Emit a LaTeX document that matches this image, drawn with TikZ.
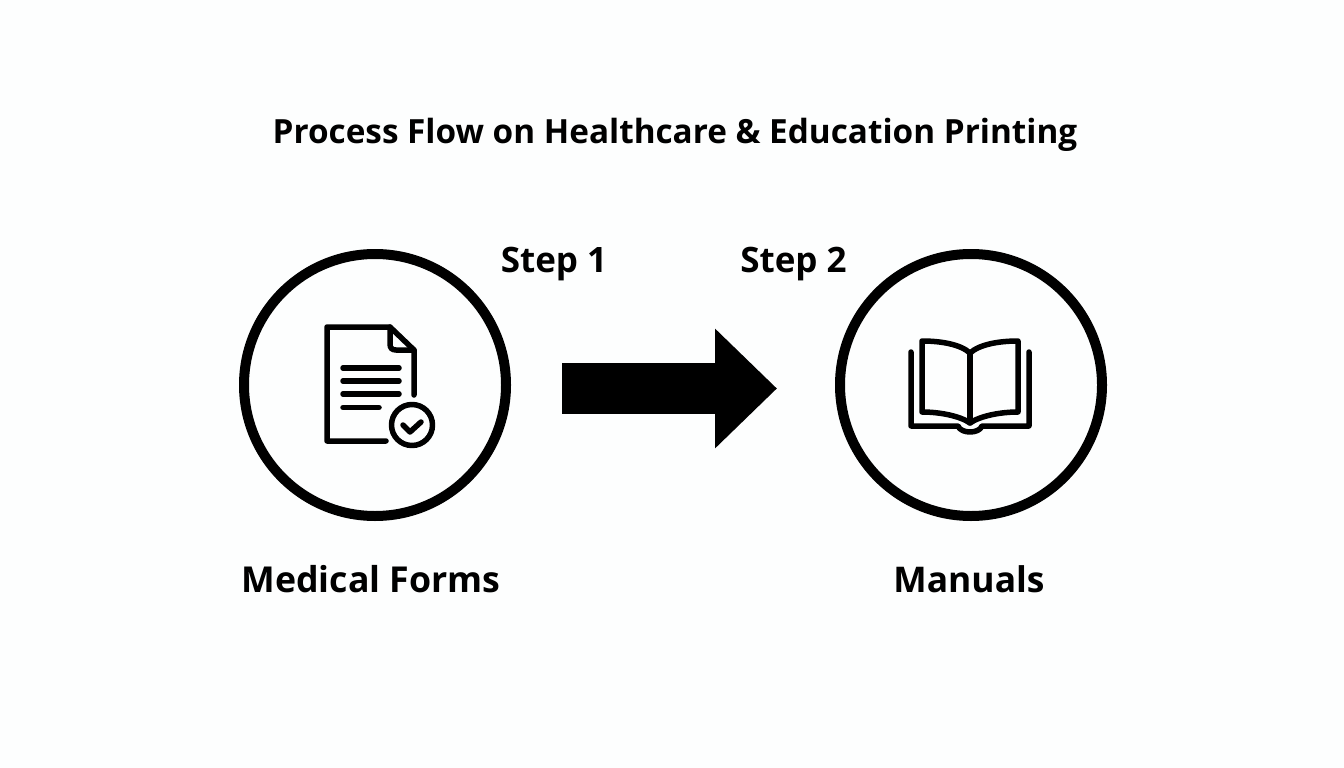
\documentclass[tikz,border=0pt]{standalone}
\usepackage{fontspec}
\setmainfont{Open Sans}
\usetikzlibrary{calc,arrows.meta,positioning}
\definecolor{pagewhite}{HTML}{FDFEFE}

\begin{document}
\begin{tikzpicture}[x=1pt,y=-1pt,thick,
    stage/.style={minimum size=262pt,circle,draw,line width=10pt,inner sep=0pt},
    caption/.style={font=\fontsize{35pt}{40pt}\selectfont\bfseries,inner sep=0pt,anchor=base},
    icon/.style={draw,line width=5.5pt,line cap=round,line join=round}]

  \path[use as bounding box,fill=pagewhite] (0,0) rectangle (1344,768);

  \node[caption,font=\fontsize{33.3pt}{38pt}\selectfont\bfseries] (title) at (675,143) {Process Flow on Healthcare \& Education Printing};

  \node[stage] (forms) at (375,385) {};
  \node[stage] (manuals) at (971,385) {};

  \node[caption,font=\fontsize{35.7pt}{40pt}\selectfont\bfseries] (formslabel) at (371,592) {Medical Forms};
  \node[caption,font=\fontsize{35.4pt}{40pt}\selectfont\bfseries] (manualslabel) at (969,592) {Manuals};
  \node[caption] (step1) at (554,272) {Step 1};
  \node[caption] (step2) at (793.5,272) {Step 2};

  \coordinate (flowstart) at (562,388.5);
  \coordinate (flowend) at (777,388.5);
  \draw[line width=51pt,-{Triangle[length=62pt,width=116pt]}] (flowstart) -- (flowend);

  % document
  \draw[icon] (386,441) -- (327,441) -- (327,327) -- (390,327) -- (414,350) -- (414,395);
  \draw[icon] (390,327) -- (390,344) .. controls (390,348) and (392,350) .. (396,350) -- (414,350);
  \foreach \y/\xend in {368/399,381/399,394/399,407.5/379}
    \draw[icon] (343,\y) -- (\xend,\y);
  \draw[icon] (412,425) circle (20.5pt);
  \draw[icon] (403,425) -- (410,432) -- (421,422);

  % book
  \draw[icon] (970,353) .. controls (960,344) and (940,341) .. (922,341) -- (922,412) .. controls (940,412) and (960,416) .. (970,423)
     .. controls (980,416) and (1000,412) .. (1018,412) -- (1018,341) .. controls (1000,341) and (980,344) .. (970,353) -- cycle;
  \draw[icon] (970,353) -- (970,423);
  \draw[icon] (911,352) -- (911,426) -- (958,426) .. controls (961,434) and (979,434) .. (982,426) -- (1029,426) -- (1029,352);

\end{tikzpicture}
\end{document}
